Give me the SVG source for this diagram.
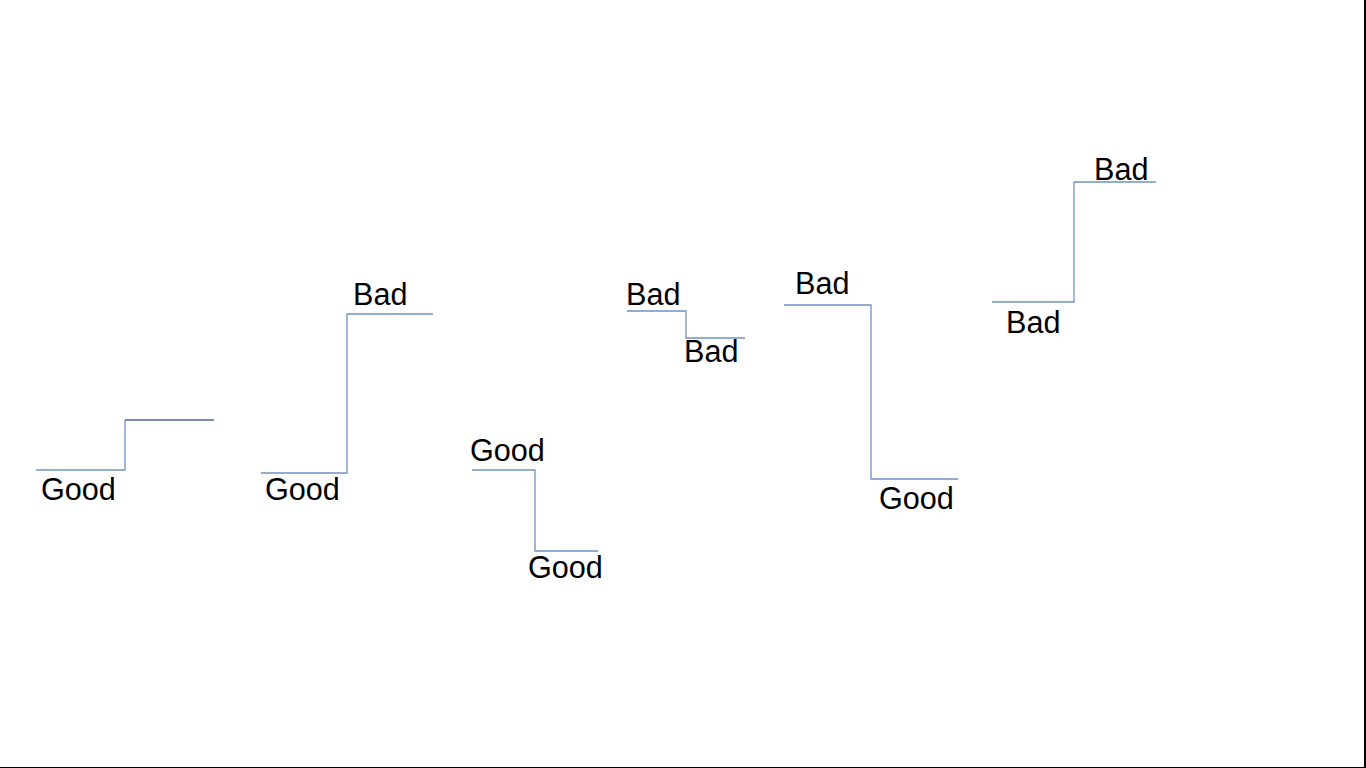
<svg xmlns="http://www.w3.org/2000/svg" width="1366" height="768" viewBox="0 0 1366 768">
<style>
.ln{fill:none;stroke:#7092c4;stroke-width:1.3}
.dk{fill:none;stroke:#4d6d93;stroke-width:1.3}
.t{font-family:"Liberation Sans",Arial,sans-serif;font-size:30.6px;fill:#000}
</style>
<rect width="1366" height="768" fill="#fff"/>
<rect x="1364" y="0" width="2" height="768" fill="#000"/>
<rect x="0" y="767" width="1366" height="1" fill="#000"/>
<g id="connectors">
<path class="ln" d="M36,470H125V420"/>
<path class="dk" d="M125,420H214"/>
<path class="ln" d="M261,473H347V314H433"/>
<path class="ln" d="M472,470H535V551H598"/>
<path class="ln" d="M627,311H686V338H745"/>
<path class="ln" d="M784,305H871V479H958"/>
<path class="ln" d="M992,302H1074V182H1156"/>
</g>
<g id="step1"><text class="t" x="41" y="500">Good</text></g>
<g id="step2"><text class="t" x="265" y="500">Good</text><text class="t" x="353" y="305">Bad</text></g>
<g id="step3"><text class="t" x="470" y="461">Good</text><text class="t" x="528" y="578">Good</text></g>
<g id="step4"><text class="t" x="626" y="305">Bad</text><text class="t" x="684" y="362">Bad</text></g>
<g id="step5"><text class="t" x="795" y="294">Bad</text><text class="t" x="879" y="509">Good</text></g>
<g id="step6"><text class="t" x="1006" y="333">Bad</text><text class="t" x="1094" y="180">Bad</text></g>
</svg>
